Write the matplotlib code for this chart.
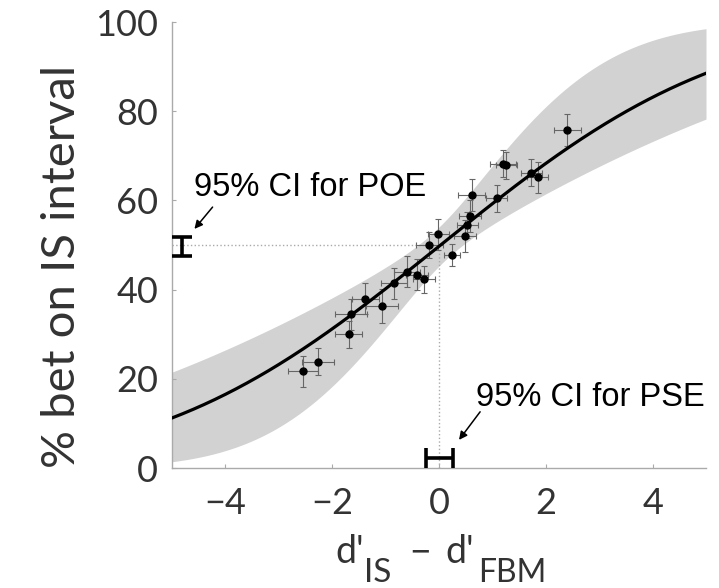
import math
import numpy as np
import matplotlib.pyplot as plt

# ==========================================
# DATA
# ==========================================

# bins: d'_IS - d'_FBM and % bet on IS interval
dprime_diff = [-2.55, -2.26, -1.69, -1.65, -1.38, -1.06, -0.84, -0.60, -0.41, -0.28, -0.18, -0.01,
               0.25, 0.49, 0.53, 0.58, 0.61, 1.08, 1.20, 1.26, 1.73, 1.85, 2.40]
pct_bet_is = [21.7, 23.8, 30.0, 34.5, 38.0, 36.3, 41.4, 44.0, 43.3, 42.3, 50.0, 52.4,
              47.8, 52.0, 54.5, 56.5, 61.2, 60.5, 68.2, 67.9, 66.2, 65.2, 75.8]
x_err = [0.28, 0.30, 0.25, 0.30, 0.25, 0.30, 0.25, 0.25, 0.20, 0.20, 0.25, 0.20,
         0.15, 0.20, 0.20, 0.20, 0.25, 0.20, 0.25, 0.20, 0.20, 0.20, 0.25]
y_err = [3.5, 3.0, 3.0, 3.5, 3.5, 3.8, 3.5, 3.5, 3.5, 3.0, 3.0, 3.5,
         2.5, 3.5, 3.0, 3.5, 3.5, 3.0, 3.0, 3.0, 3.0, 3.5, 3.5]

# fitted cumulative gaussian and its confidence band (slope range + centre spread, in z units)
fit_mu = 0.03
fit_sigma = 4.14
band_sigma_range = [2.3, 6.3]
band_centre_z = 0.11

# 95% CIs
poe_x = -4.81
poe_ci = [47.5, 51.8]
pse_y = 2.2
pse_ci = [-0.24, 0.26]

x_ticks = [-4, -2, 0, 2, 4]
y_ticks = [0, 20, 40, 60, 80, 100]


def phi(z):
    return np.array([50.0 * (1 + math.erf(v / math.sqrt(2))) for v in z])


# ==========================================
# FIGURE
# ==========================================

plt.rcParams['font.family'] = ['Lato', 'DejaVu Sans']

W, H = 719, 588
fig = plt.figure(figsize=(W / 100, H / 100), dpi=100)
ax = fig.add_axes([172 / W, 1 - 468 / H, 534 / W, 446 / H])

xs = np.linspace(-5, 5, 400)
fit = phi((xs - fit_mu) / fit_sigma)
z_a = (xs - fit_mu) / band_sigma_range[0]
z_b = (xs - fit_mu) / band_sigma_range[1]
half = np.sqrt(((z_a - z_b) / 2) ** 2 + band_centre_z ** 2)
band_up = phi((z_a + z_b) / 2 + half)
band_lo = phi((z_a + z_b) / 2 - half)

ax.fill_between(xs, band_lo, band_up, color='#d2d2d2', lw=0, zorder=1)

# dotted guide lines
ax.plot([-5, 0], [50, 50], ls=':', color='#aaaaaa', lw=1, zorder=2)
ax.plot([0, 0], [0, 50], ls=':', color='#aaaaaa', lw=1, zorder=2)

ax.errorbar(dprime_diff, pct_bet_is, xerr=x_err, yerr=y_err, fmt='o', color='black',
            ms=5, ecolor='#666666', elinewidth=0.8, capsize=2.5, capthick=0.8, zorder=3)

ax.plot(xs, fit, color='black', lw=2.3, zorder=4)

# CI markers
ax.errorbar(poe_x, np.mean(poe_ci), yerr=(poe_ci[1] - poe_ci[0]) / 2, color='black',
            elinewidth=2.6, capsize=7.5, capthick=2.6, clip_on=False, zorder=5)
ax.errorbar(np.mean(pse_ci), pse_y, xerr=(pse_ci[1] - pse_ci[0]) / 2, color='black',
            elinewidth=2.6, capsize=7.2, capthick=2.6, clip_on=False, zorder=5)

ax.text(-4.58, 62.8, '95% CI for POE', fontsize=23.5, family='Liberation Sans',
        va='center', ha='left')
ax.annotate('', xy=(-4.58, 53.6), xytext=(-4.24, 58.5),
            arrowprops=dict(arrowstyle='-|>', color='black', lw=1.1, shrinkA=0, shrinkB=0,
                            mutation_scale=12))
ax.text(0.69, 15.7, '95% CI for PSE', fontsize=23.5, family='Liberation Sans',
        va='center', ha='left')
ax.annotate('', xy=(0.375, 6.3), xytext=(0.77, 12.6),
            arrowprops=dict(arrowstyle='-|>', color='black', lw=1.1, shrinkA=0, shrinkB=0,
                            mutation_scale=12))

# axes styling
ax.set_xlim(-5, 5)
ax.set_ylim(0, 100)
ax.set_xticks(x_ticks)
ax.set_yticks(y_ticks)
ax.set_xticklabels(['\u2212' + str(-t) if t < 0 else str(t) for t in x_ticks])
for side in ['top', 'right']:
    ax.spines[side].set_visible(False)
for side in ['left', 'bottom']:
    ax.spines[side].set_color('#aaaaaa')
    ax.spines[side].set_linewidth(1)
ax.tick_params(direction='in', length=3, color='#aaaaaa', labelsize=26, labelcolor='#333333')
ax.tick_params(axis='y', pad=10)
ax.tick_params(axis='x', pad=14)

# y label
fig.text(62 / W, 1 - 266 / H, '% bet on IS interval', rotation=90, fontsize=34,
         color='#333333', ha='center', va='center')

# x label with large subscripts
label_color = '#333333'
fig.text(335 / W, 1 - 563 / H, "d'", fontsize=27, color=label_color, va='baseline')
fig.text(364 / W, 1 - 582 / H, 'IS', fontsize=24, color=label_color, va='baseline')
fig.text(409 / W, 1 - 563 / H, '\u2212', fontsize=27, color=label_color, va='baseline')
fig.text(445 / W, 1 - 563 / H, "d'", fontsize=27, color=label_color, va='baseline')
fig.text(478 / W, 1 - 582 / H, 'FBM', fontsize=23, color=label_color, va='baseline')

fig.savefig('out.png', dpi=100)
